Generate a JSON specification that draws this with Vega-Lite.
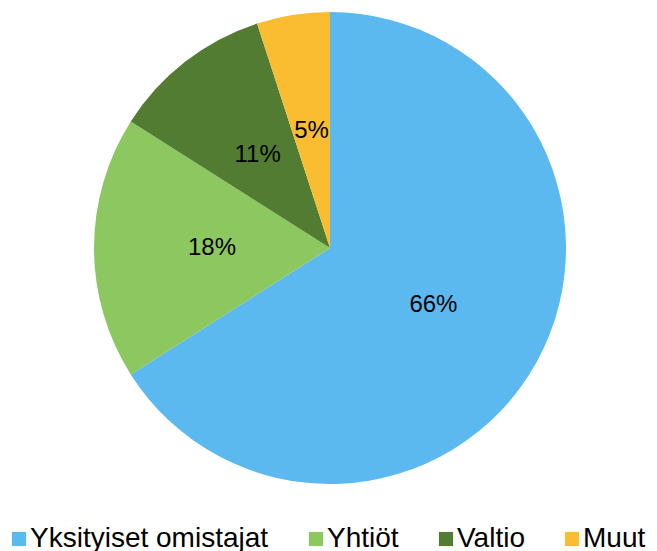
{
  "$schema": "https://vega.github.io/schema/vega-lite/v6.json",
  "width": 656,
  "height": 496,
  "autosize": {"type": "none"},
  "padding": {"left": 2, "top": 0, "right": 0, "bottom": 55},
  "background": "white",
  "data": {
    "values": [
      {"category": "Yksityiset omistajat", "value": 66, "label": "66%", "order": 1},
      {"category": "Yhtiöt", "value": 18, "label": "18%", "order": 2},
      {"category": "Valtio", "value": 11, "label": "11%", "order": 3},
      {"category": "Muut", "value": 5, "label": "5%", "order": 4}
    ]
  },
  "encoding": {
    "theta": {"field": "value", "type": "quantitative", "stack": true},
    "order": {"field": "order", "type": "quantitative"}
  },
  "layer": [
    {
      "mark": {"type": "arc", "outerRadius": 236},
      "encoding": {
        "color": {
          "field": "category",
          "type": "nominal",
          "scale": {
            "domain": ["Yksityiset omistajat", "Yhtiöt", "Valtio", "Muut"],
            "range": ["#5BB9F0", "#8CC75F", "#527C31", "#FABD32"]
          },
          "legend": {
            "title": null,
            "orient": "none",
            "direction": "horizontal",
            "legendX": 3,
            "legendY": 525,
            "padding": 0,
            "symbolType": "square",
            "symbolSize": 200,
            "symbolStrokeWidth": 0,
            "labelFont": "Liberation Sans",
            "labelFontSize": 28,
            "labelColor": "#000000",
            "labelOffset": -3,
            "columnPadding": 33,
            "labelLimit": 400
          }
        }
      }
    },
    {
      "mark": {"type": "text", "radius": 118, "font": "Liberation Sans", "fontSize": 24, "color": "#000000"},
      "encoding": {
        "text": {"field": "label", "type": "nominal"}
      }
    }
  ]
}
